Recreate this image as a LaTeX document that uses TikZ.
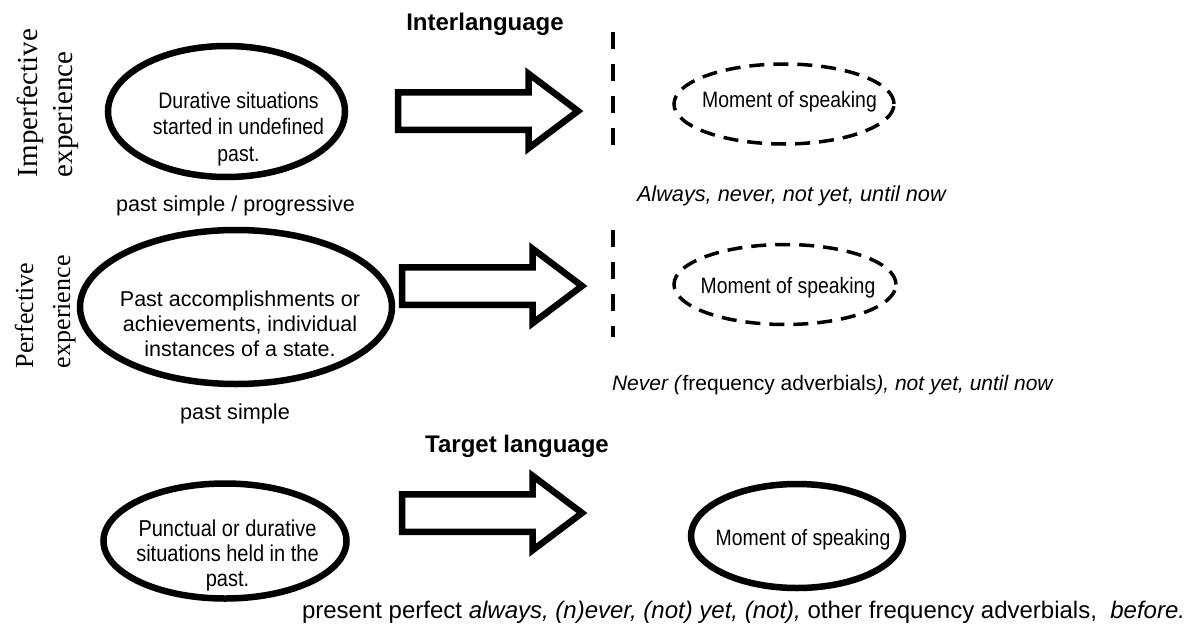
\documentclass[tikz,border=0pt]{standalone}
\usepackage{fontspec}
\setmainfont{Liberation Sans}
\newfontfamily\timesf{Liberation Serif}
\newfontfamily\narrowsf[FakeStretch=0.87]{Liberation Sans}
\usetikzlibrary{shapes.geometric,shapes.arrows}
\newcommand{\fsz}[2]{\fontsize{#1}{#2}\selectfont}

\begin{document}
\begin{tikzpicture}[x=1pt,y=-1pt,
    every node/.style={align=center,inner sep=0pt,outer sep=0pt},
    oval/.style={ellipse,draw,line width=6.5pt},
    dashoval/.style={ellipse,draw,line width=3.5pt,dash pattern=on 15pt off 9pt},
    bigarrow/.style={single arrow,draw,line width=6.5pt,anchor=tail,
                     single arrow tip angle=74,single arrow head extend=18.5pt,
                     inner ysep=15.5pt,minimum height=180pt},
    divider/.style={line width=4.5pt,dash pattern=on 17pt off 15pt},
    sidelbl/.style={font=\timesf\fsz{29}{35},rotate=90,anchor=base west},
    rowtitle/.style={font=\bfseries\fsz{24}{29},anchor=base},
    moment/.style={font=\narrowsf\fsz{22.3}{26},anchor=base}
  ]
  \fill[white] (0,0) rectangle (1189,624);

  % imperfective experience
  \node[sidelbl] (impa) at (37,177) {Imperfective};
  \node[sidelbl] (impb) at (72,177) {experience};
  \node[oval,minimum width=237pt,minimum height=131pt] (imp) at (226.5,111.5) {};
  \node[font=\narrowsf\fsz{22.4}{26.7}] (imptxt) at (238.5,129)
    {Durative situations\\started in undefined\\past.};
  \node[font=\fsz{21.6}{26},anchor=base] (imptense) at (235.5,211.7)
    {past simple / progressive};
  \node[rowtitle] (inter) at (485,30) {Interlanguage};
  \node[bigarrow] (arr1) at (398,111) {};
  \coordinate (d1top) at (613,32);
  \coordinate (d1bot) at (613,147);
  \draw[divider] (d1top) -- (d1bot);
  \node[dashoval,minimum width=220pt,minimum height=80pt] (ms1) at (784,104) {};
  \node[moment] (ms1txt) at (789.5,107) {Moment of speaking};
  \node[font=\itshape\fsz{21.7}{26},anchor=base west] (adv1) at (637,201)
    {Always, never, not yet, until now};

  % perfective experience
  \node[sidelbl,font=\timesf\fsz{26}{32}] (perfa) at (33,368) {Perfective};
  \node[sidelbl,font=\timesf\fsz{26}{32}] (perfb) at (70,368) {experience};
  \node[oval,minimum width=312pt,minimum height=154pt] (perf) at (236,307) {};
  \node[font=\fsz{21.5}{25}] (perftxt) at (240,324)
    {Past accomplishments or\\achievements, individual\\instances of a state.};
  \node[font=\fsz{21.7}{26},anchor=base] (perftense) at (235,419) {past simple};
  \node[bigarrow] (arr2) at (402,286) {};
  \coordinate (d2top) at (613,230);
  \coordinate (d2bot) at (613,337);
  \draw[divider] (d2top) -- (d2bot);
  \node[dashoval,minimum width=222pt,minimum height=80pt] (ms2) at (785,284.5) {};
  \node[moment] (ms2txt) at (788,293) {Moment of speaking};
  \node[font=\fsz{21}{26},anchor=base west] (adv2) at (612,390)
    {\textit{Never (}frequency adverbials\textit{), not yet, until now}};

  % target language
  \node[rowtitle] (target) at (517,452) {Target language};
  \node[oval,minimum width=243pt,minimum height=115pt] (punc) at (225,541) {};
  \node[font=\narrowsf\fsz{23}{25}] (punctxt) at (227.5,555.5)
    {Punctual or durative\\situations held in the\\past.};
  \node[bigarrow] (arr3) at (402,513) {};
  \node[oval,minimum width=212pt,minimum height=104pt] (ms3) at (797,536) {};
  \node[moment] (ms3txt) at (803,545) {Moment of speaking};
  \node[font=\fsz{24}{29},anchor=base west] (pp) at (302,618)
    {present perfect \textit{always, (n)ever, (not) yet, (not),} other frequency adverbials,\ \ \textit{before.}};
\end{tikzpicture}
\end{document}
